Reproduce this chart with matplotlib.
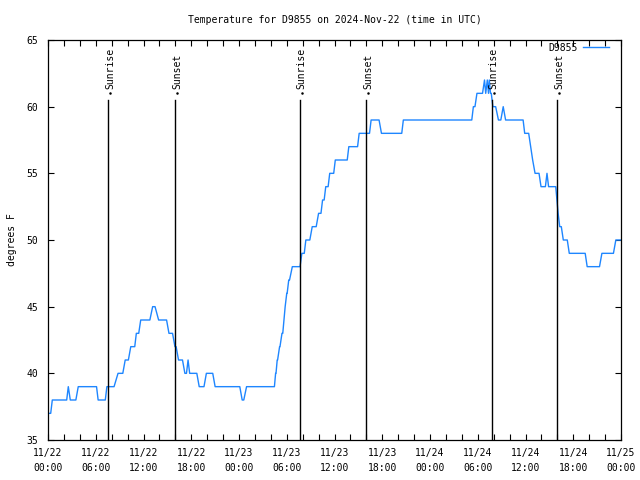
import datetime as dt

import numpy as np
import matplotlib
matplotlib.use("Agg")
import matplotlib.pyplot as plt
import matplotlib.dates as mdates

plt.rcParams["font.family"] = "DejaVu Sans Mono"
plt.rcParams["font.size"] = 7

LINE_COLOR = "#1e86ff"
BASE = dt.datetime(2024, 11, 22)

# temperature plateaus: start hour, end hour (from 11/22 00:00 UTC), degrees F
seg_start = [0.0, 0.54, 2.55, 2.8, 3.8, 6.3, 7.4, 8.8, 9.7, 10.4, 11.1, 11.65,
             13.15, 13.9, 15.2, 15.95, 16.4, 17.2, 17.6, 17.8, 19.0, 19.9, 21.0,
             24.4, 24.95, 28.6, 28.8, 29.1, 29.4, 29.65, 29.8, 30.0, 30.25, 30.7,
             31.9, 32.4, 33.2, 34.0, 34.5, 34.9, 35.4, 36.1, 37.8, 39.1, 40.6,
             41.9, 44.65, 53.45, 53.9, 54.85, 55.0, 55.2, 55.35, 55.45, 55.6,
             55.9, 56.6, 57.2, 57.5, 59.9, 60.65, 60.9, 61.2, 61.95, 62.7, 62.9,
             63.95, 64.1, 64.3, 64.75, 65.5, 67.75, 69.6, 71.35]
seg_end = [0.34, 2.35, 2.55, 3.5, 6.1, 7.2, 8.3, 9.4, 10.1, 10.9, 11.4, 12.8,
           13.45, 14.9, 15.65, 16.1, 16.9, 17.4, 17.6, 18.7, 19.6, 20.7, 24.1,
           24.6, 28.45, 28.65, 28.85, 29.15, 29.5, 29.65, 29.8, 30.05, 30.35, 31.67,
           32.2, 32.9, 33.7, 34.3, 34.7, 35.2, 35.9, 37.6, 38.9, 40.4, 41.6,
           44.45, 53.25, 53.65, 54.6, 54.85, 55.0, 55.2, 55.35, 55.45, 55.7,
           56.25, 56.9, 57.2, 59.7, 60.4, 60.65, 60.9, 61.7, 62.5, 62.7, 63.8,
           63.95, 64.1, 64.5, 65.25, 67.5, 69.3, 71.05, 72.0]
seg_temp = [37, 38, 39, 38, 39, 38, 39, 40, 41, 42, 43, 44,
            45, 44, 43, 42, 41, 40, 41, 40, 39, 40, 39,
            38, 39, 40, 41, 42, 43, 44, 45, 46, 47, 48,
            49, 50, 51, 52, 53, 54, 55, 56, 57, 58, 59,
            58, 59, 60, 61, 62, 61, 62, 61, 62, 61,
            60, 59, 60, 59, 58, 57, 56, 55, 54, 55, 54,
            53, 52, 51, 50, 49, 48, 49, 50]

# sun events, hours from 11/22 00:00 UTC
sun_hours = [7.55, 15.95, 31.62, 39.95, 55.75, 63.95]
sun_labels = ["Sunrise", "Sunset", "Sunrise", "Sunset", "Sunrise", "Sunset"]


def hours_to_dates(hours):
    return [BASE + dt.timedelta(hours=float(h)) for h in hours]


hrs = np.ravel(np.column_stack([seg_start, seg_end]))
temps = np.repeat(seg_temp, 2)

fig = plt.figure(figsize=(6.4, 4.8), dpi=100, facecolor="white")
ax = fig.add_axes([48 / 640, 40 / 480, 573 / 640, 400 / 480])

ax.plot(hours_to_dates(hrs), temps, color=LINE_COLOR, linewidth=1.0,
        label="D9855")

for when, lab in zip(hours_to_dates(sun_hours), sun_labels):
    ax.plot([when, when], [35, 60.5], color="black", linewidth=1.0)
    off = dt.timedelta(hours=0.25)
    ax.plot([when + off], [61.0], marker="o", markersize=0.8, color="black")
    ax.text(when + off, 61.35, lab, rotation=90, ha="center", va="bottom")

ax.set_xlim(BASE, BASE + dt.timedelta(hours=72))
ax.set_ylim(35, 65)
ax.set_yticks(range(35, 66, 5))

ticks = hours_to_dates(range(0, 73, 6))
ax.set_xticks(ticks, [t.strftime("%m/%d\n%H:%M") for t in ticks])
ax.xaxis.set_minor_locator(mdates.HourLocator(byhour=range(0, 24, 2)))
for lbl in ax.get_xticklabels():
    lbl.set_linespacing(1.55)

ax.tick_params(which="both", direction="in", top=True, right=True,
               width=0.8, length=4, pad=6)
ax.tick_params(axis="y", pad=7)
for s in ax.spines.values():
    s.set_linewidth(0.9)

ax.set_title("Temperature for D9855 on 2024-Nov-22 (time in UTC)", pad=12,
             fontsize=7)
ax.set_ylabel("degrees F", labelpad=7)

ax.legend(loc="upper right", bbox_to_anchor=(0.979, 0.993), frameon=False,
          markerfirst=False, borderpad=0, borderaxespad=0, handlelength=2.7,
          handletextpad=0.5)

fig.savefig("out.png", dpi=100, facecolor="white")
